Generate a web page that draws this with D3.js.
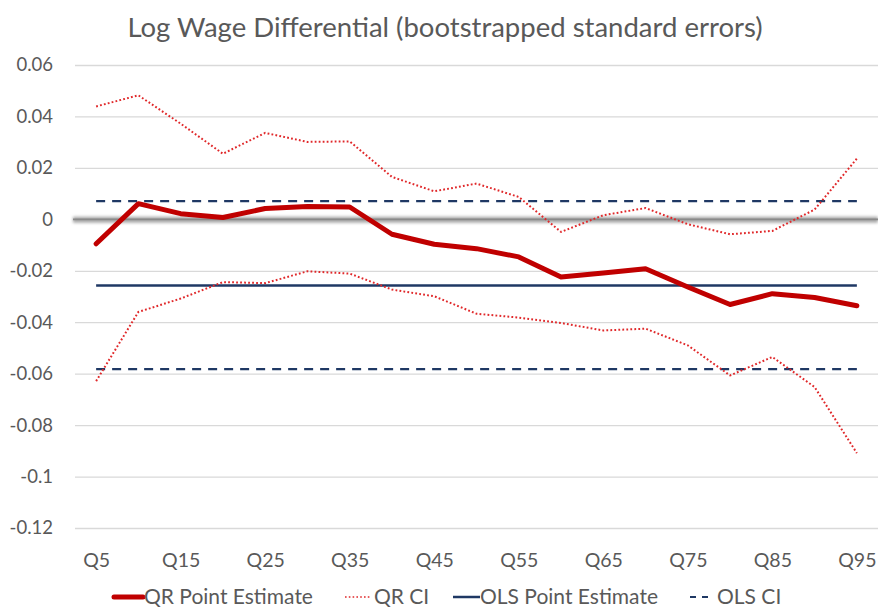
<!DOCTYPE html>
<html>
<head>
<meta charset="utf-8">
<script src="https://cdn.jsdelivr.net/npm/d3@7"></script>
<style>
  html, body { margin: 0; padding: 0; background: #fff; }
  svg { display: block; }
  text { font-family: Lato, "Liberation Sans", sans-serif; fill: #595959; }
</style>
</head>
<body>
<svg id="chart" width="878" height="611"></svg>
<script>
const categories = ["Q5","Q10","Q15","Q20","Q25","Q30","Q35","Q40","Q45","Q50","Q55","Q60","Q65","Q70","Q75","Q80","Q85","Q90","Q95"];
const qrPoint = [-0.0095, 0.0061, 0.0022, 0.0007, 0.0042, 0.0050, 0.0048, -0.0058, -0.0097, -0.0114, -0.0146, -0.0224, -0.0209, -0.0192, -0.0263, -0.0331, -0.0289, -0.0304, -0.0336];
const qrUpper = [0.0439, 0.0482, 0.0372, 0.0255, 0.0336, 0.0301, 0.0303, 0.0165, 0.0109, 0.0139, 0.0087, -0.0049, 0.0016, 0.0044, -0.0019, -0.0058, -0.0045, 0.0038, 0.0236];
const qrLower = [-0.0629, -0.0360, -0.0308, -0.0244, -0.0248, -0.0202, -0.0211, -0.0273, -0.0299, -0.0367, -0.0382, -0.0403, -0.0432, -0.0425, -0.0490, -0.0607, -0.0535, -0.0652, -0.0909];
const olsPoint = -0.0257;
const olsUpper = 0.0071;
const olsLower = -0.0582;
const yTicks = [0.06, 0.04, 0.02, 0, -0.02, -0.04, -0.06, -0.08, -0.1, -0.12];
const xTickLabels = ["Q5","Q15","Q25","Q35","Q45","Q55","Q65","Q75","Q85","Q95"];
const title = "Log Wage Differential (bootstrapped standard errors)";
const legendItems = ["QR Point Estimate", "QR CI", "OLS Point Estimate", "OLS CI"];

const svg = d3.select("#chart");
const red = "#C00000", redDot = "#E0282A", navy = "#1F3864", grid = "#D9D9D9";

const x = d3.scalePoint().domain(categories).range([75, 878]).padding(0.5);
const y = d3.scaleLinear().domain([-0.12, 0.06]).range([528, 65]);

const defs = svg.append("defs");
const f = defs.append("filter").attr("id","blur").attr("filterUnits","userSpaceOnUse")
  .attr("x", 0).attr("y", 0).attr("width", 878).attr("height", 611);
f.append("feGaussianBlur").attr("stdDeviation", 1.8);

// title
svg.append("text").attr("x", 445).attr("y", 37).attr("text-anchor","middle")
  .style("font-size","27.5px").text(title);

// gridlines
const yAxis = d3.axisLeft(y).tickValues(yTicks).tickSize(-(878-75)).tickFormat(d => String(+d.toFixed(2)));
const gy = svg.append("g").attr("transform","translate(75,0)").call(yAxis);
gy.select(".domain").remove();
gy.selectAll(".tick line").attr("stroke", grid).attr("stroke-width", 1.3).attr("opacity", d => d === 0 ? 0 : 1);
gy.selectAll(".tick text").attr("x", -22).style("font-size","18.5px").attr("fill","#595959");

// zero line with soft shadow
svg.append("line").attr("x1", 73).attr("x2", 878).attr("y1", y(0) + 0.5).attr("y2", y(0) + 0.5)
  .attr("stroke", "#a8a8a8").attr("stroke-width", 6).attr("filter","url(#blur)");
svg.append("line").attr("x1", 73).attr("x2", 878).attr("y1", y(0)).attr("y2", y(0))
  .attr("stroke", "#8a8a8a").attr("stroke-width", 1.8);

// x axis labels
const xAxis = d3.axisBottom(x).tickValues(xTickLabels).tickSize(0);
const gx = svg.append("g").attr("transform","translate(0,546)").call(xAxis);
gx.select(".domain").remove();
gx.selectAll(".tick text").attr("dy", "0.9em").style("font-size","19.5px").attr("fill","#595959");

const line = d3.line().x((d,i) => x(categories[i])).y(d => y(d));
const constLine = v => categories.map(() => v);

// OLS
svg.append("path").datum(constLine(olsUpper)).attr("d", line).attr("fill","none")
  .attr("stroke", navy).attr("stroke-width", 2.2).attr("stroke-dasharray","9,7");
svg.append("path").datum(constLine(olsLower)).attr("d", line).attr("fill","none")
  .attr("stroke", navy).attr("stroke-width", 2.2).attr("stroke-dasharray","9,7");
svg.append("path").datum(constLine(olsPoint)).attr("d", line).attr("fill","none")
  .attr("stroke", navy).attr("stroke-width", 2.5);

// QR CI
[qrUpper, qrLower].forEach(arr => {
  svg.append("path").datum(arr).attr("d", line).attr("fill","none")
    .attr("stroke", redDot).attr("stroke-width", 2).attr("stroke-dasharray","1.8,2.2");
});
// QR point
svg.append("path").datum(qrPoint).attr("d", line).attr("fill","none")
  .attr("stroke", red).attr("stroke-width", 5).attr("stroke-linecap","round").attr("stroke-linejoin","round");

// legend
const ly = 597;
const lg = svg.append("g");
const legendSpec = [
  {x1:114, x2:143, tx:144, color:red, w:5, dash:null, cap:"round"},
  {x1:345, x2:370, tx:374, color:redDot, w:1.6, dash:"1.6,2.2", cap:"butt"},
  {x1:453, x2:480, tx:480, color:navy, w:2.5, dash:null, cap:"butt"},
  {x1:690, x2:714, tx:717, color:navy, w:2.2, dash:"6,6", cap:"butt"}
];
legendItems.forEach((name, i) => {
  const s = legendSpec[i];
  lg.append("line").attr("x1", s.x1).attr("x2", s.x2).attr("y1", ly).attr("y2", ly)
    .attr("stroke", s.color).attr("stroke-width", s.w).attr("stroke-dasharray", s.dash).attr("stroke-linecap", s.cap);
  lg.append("text").attr("x", s.tx).attr("y", ly).attr("dy","0.35em").style("font-size","21px").text(name);
});
</script>
</body>
</html>
